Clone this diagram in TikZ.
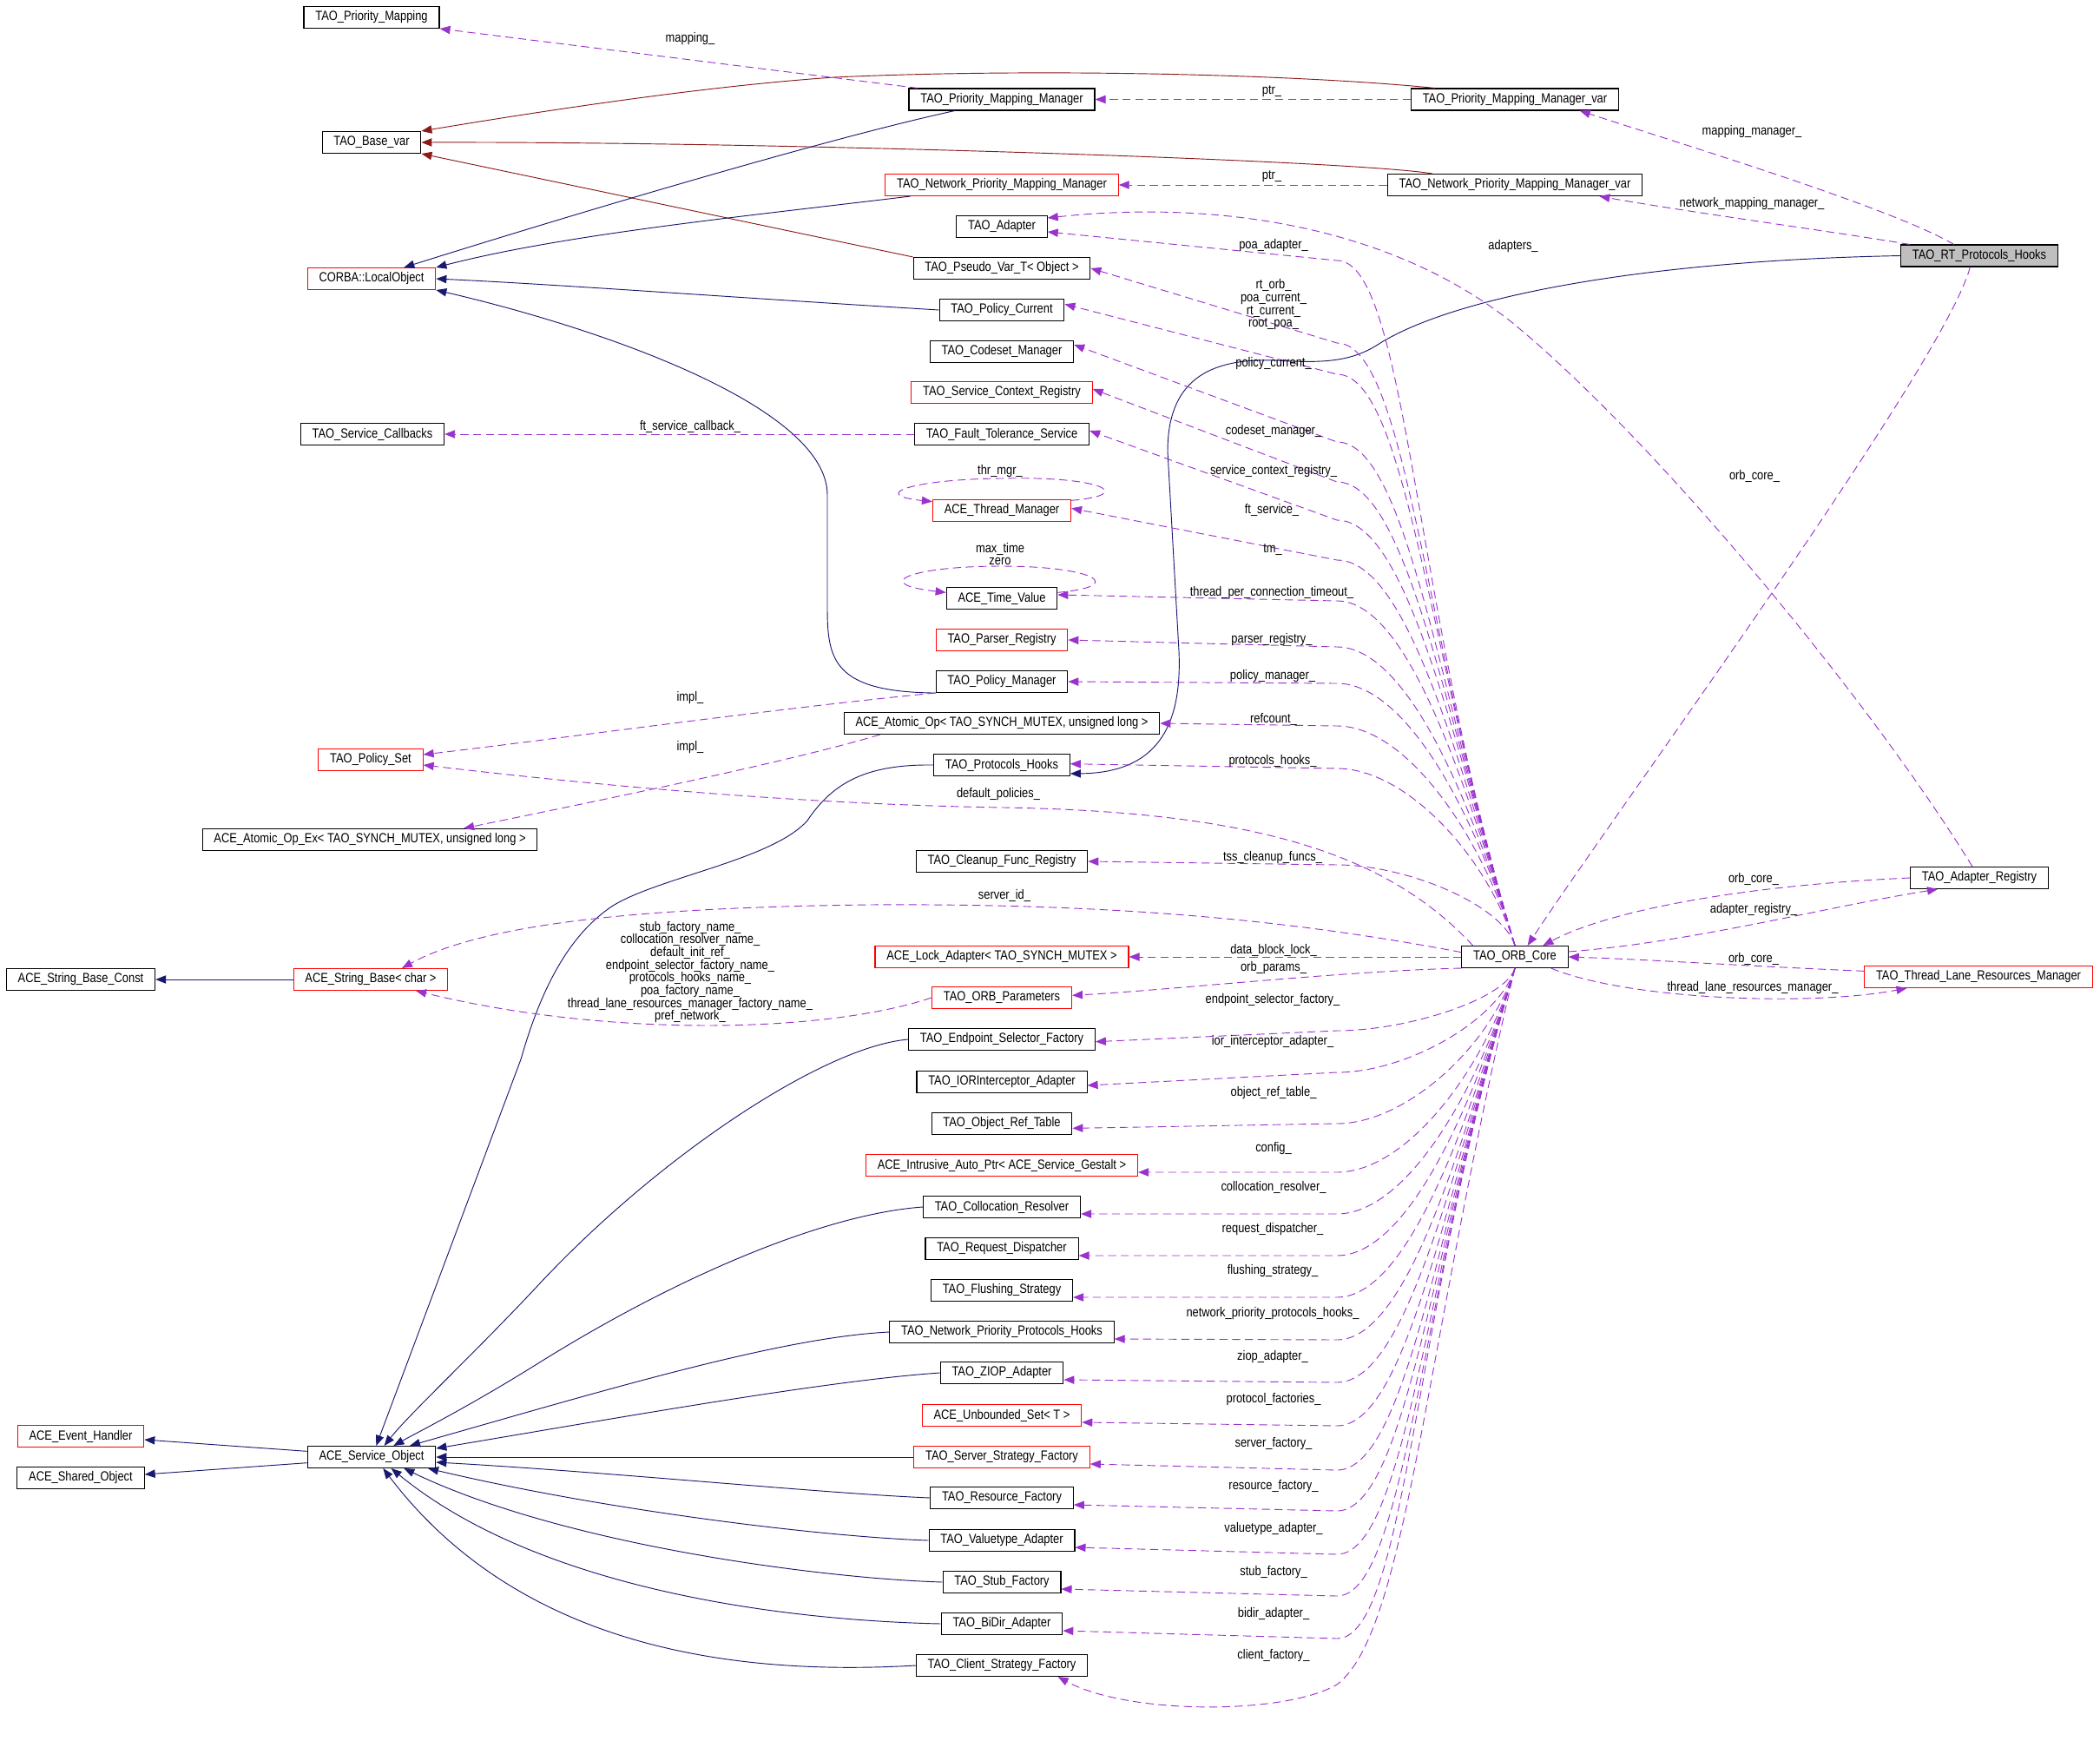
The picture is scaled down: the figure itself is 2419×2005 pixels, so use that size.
\documentclass[tikz,border=0pt]{standalone}
\usepackage{xcolor}
\usepackage{fontspec}
\setmainfont{Liberation Sans}[FakeStretch=0.84]
\usepackage{tikz}
\usetikzlibrary{arrows.meta, positioning}
\definecolor{mynavy}{RGB}{25,25,112}
\definecolor{mybrown}{RGB}{139,26,26}
\definecolor{myorchid}{RGB}{154,50,205}
\definecolor{myred}{RGB}{255,0,0}
\definecolor{mygray}{RGB}{191,191,191}
\newcommand{\dgfont}{\fontsize{11.5}{11}\selectfont}
\tikzset{
  cls/.style={rectangle, draw=black, fill=white, line width=0.8pt,
    inner xsep=10pt, inner ysep=2pt, minimum height=18.75pt, font=\dgfont},
  redcls/.style={cls, draw=myred},
  hlcls/.style={cls, fill=mygray},
  inhline/.style={-{Triangle[length=9pt,width=7pt]}, line width=0.7pt, color=mynavy},
  tplline/.style={-{Triangle[length=9pt,width=7pt]}, line width=0.7pt, color=mybrown},
  useline/.style={-{Triangle[length=9pt,width=7pt]}, line width=0.7pt, color=myorchid,
    dash pattern=on 7pt off 4pt},
  lbl/.style={font=\dgfont, inner sep=0pt, align=center}
}
\begin{document}
\begin{tikzpicture}[x=0.75pt, y=-0.75pt]
  \useasboundingbox (0,0) rectangle (2419,2005);

  % Left column
  \node[cls] (pm) at (428,20) {TAO\_Priority\_Mapping};
  \node[cls] (basevar) at (428,164) {TAO\_Base\_var};
  \node[redcls] (localobj) at (428,321) {CORBA::LocalObject};
  \node[cls] (svccb) at (429,500) {TAO\_Service\_Callbacks};
  \node[redcls] (policyset) at (427,875) {TAO\_Policy\_Set};
  \node[cls] (atomicex) at (426,967) {ACE\_Atomic\_Op\_Ex< TAO\_SYNCH\_MUTEX, unsigned long >};
  \node[redcls] (strbase) at (427,1128) {ACE\_String\_Base< char >};
  \node[cls] (svcobj) at (428,1678) {ACE\_Service\_Object};
  \node[cls] (strconst) at (93,1128) {ACE\_String\_Base\_Const};
  \node[redcls] (evh) at (93,1654) {ACE\_Event\_Handler};
  \node[cls] (shobj) at (93,1702) {ACE\_Shared\_Object};

  % Middle column
  \node[cls] (pmm) at (1154,114.5) {TAO\_Priority\_Mapping\_Manager};
  \node[redcls] (npmm) at (1154,213) {TAO\_Network\_Priority\_Mapping\_Manager};
  \node[cls] (adapter) at (1154,261) {TAO\_Adapter};
  \node[cls] (pseudo) at (1154,309) {TAO\_Pseudo\_Var\_T< Object >};
  \node[cls] (policycur) at (1154,357) {TAO\_Policy\_Current};
  \node[cls] (codeset) at (1154,405) {TAO\_Codeset\_Manager};
  \node[redcls] (svcctx) at (1154,452) {TAO\_Service\_Context\_Registry};
  \node[cls] (ftsvc) at (1154,500) {TAO\_Fault\_Tolerance\_Service};
  \node[redcls] (thrmgr) at (1154,588) {ACE\_Thread\_Manager};
  \node[cls] (timeval) at (1154,689) {ACE\_Time\_Value};
  \node[redcls] (parser) at (1154,737) {TAO\_Parser\_Registry};
  \node[cls] (policymgr) at (1154,785) {TAO\_Policy\_Manager};
  \node[cls] (atomicop) at (1154,833) {ACE\_Atomic\_Op< TAO\_SYNCH\_MUTEX, unsigned long >};
  \node[cls] (prothooks) at (1154,881) {TAO\_Protocols\_Hooks};
  \node[cls] (cleanup) at (1154,992) {TAO\_Cleanup\_Func\_Registry};
  \node[redcls] (lockad) at (1154,1102) {ACE\_Lock\_Adapter< TAO\_SYNCH\_MUTEX >};
  \node[redcls] (orbparams) at (1154,1149) {TAO\_ORB\_Parameters};
  \node[cls] (epsel) at (1154,1197) {TAO\_Endpoint\_Selector\_Factory};
  \node[cls] (iorint) at (1154,1246) {TAO\_IORInterceptor\_Adapter};
  \node[cls] (objref) at (1154,1294) {TAO\_Object\_Ref\_Table};
  \node[redcls] (intrusive) at (1154,1342) {ACE\_Intrusive\_Auto\_Ptr< ACE\_Service\_Gestalt >};
  \node[cls] (colloc) at (1154,1390) {TAO\_Collocation\_Resolver};
  \node[cls] (reqdisp) at (1154,1438) {TAO\_Request\_Dispatcher};
  \node[cls] (flush) at (1154,1486) {TAO\_Flushing\_Strategy};
  \node[cls] (npph) at (1154,1534) {TAO\_Network\_Priority\_Protocols\_Hooks};
  \node[cls] (ziop) at (1154,1581) {TAO\_ZIOP\_Adapter};
  \node[redcls] (unbset) at (1154,1630) {ACE\_Unbounded\_Set< T >};
  \node[redcls] (srvstrat) at (1154,1678) {TAO\_Server\_Strategy\_Factory};
  \node[cls] (resfac) at (1154,1725) {TAO\_Resource\_Factory};
  \node[cls] (valtype) at (1154,1774) {TAO\_Valuetype\_Adapter};
  \node[cls] (stubfac) at (1154,1822) {TAO\_Stub\_Factory};
  \node[cls] (bidir) at (1154,1870) {TAO\_BiDir\_Adapter};
  \node[cls] (clistrat) at (1154,1918) {TAO\_Client\_Strategy\_Factory};

  % Right side
  \node[cls] (pmmvar) at (1745,114.5) {TAO\_Priority\_Mapping\_Manager\_var};
  \node[cls] (npmmvar) at (1745,213) {TAO\_Network\_Priority\_Mapping\_Manager\_var};
  \node[hlcls] (rtph) at (2280,294.5) {TAO\_RT\_Protocols\_Hooks};
  \node[cls] (orb) at (1745,1102) {TAO\_ORB\_Core};
  \node[cls] (areg) at (2280,1011) {TAO\_Adapter\_Registry};
  \node[redcls] (tlrm) at (2279,1125) {TAO\_Thread\_Lane\_Resources\_Manager};

  % Template edges
  \draw[tplline] ([xshift=21pt]pmmvar.north west) .. controls (1500,86) and (1200,78) .. (961,89) .. controls (800,100) and (600,132) .. (basevar.north east);
  \draw[tplline] ([xshift=39pt]npmmvar.north west) .. controls (1560,185) and (900,163) .. (basevar.east);
  \draw[tplline] (pseudo.north west) -- (basevar.south east);

  % Inheritance edges
  \draw[inhline] ([xshift=40pt]pmm.south west) .. controls (950,160) and (650,250) .. ([xshift=28pt]localobj.north);
  \draw[inhline] ([xshift=22pt]npmm.south west) .. controls (850,250) and (650,270) .. (localobj.north east);
  \draw[inhline] (policycur.west) .. controls (850,343) and (650,328) .. (localobj.east);
  \draw[inhline] (policymgr.south west) .. controls (960,797) and (953,760) .. (953,700) -- (953,570) .. controls (953,470) and (700,380) .. (localobj.south east);
  \draw[inhline] (rtph.west) .. controls (1900,300) and (1680,340) .. (1590,395) .. controls (1560,415) and (1530,419) .. (1470,415) .. controls (1390,412) and (1345,440) .. (1345,520) -- (1358,750) .. controls (1362,840) and (1330,890) .. ([yshift=-7.5pt]prothooks.east);
  \draw[inhline] (prothooks.west) .. controls (1000,880) and (960,900) .. (930,945) .. controls (890,990) and (760,1010) .. (706,1043) .. controls (650,1080) and (620,1150) .. (600,1220) -- ([xshift=4pt]svcobj.north);
  \draw[inhline] (epsel.west) .. controls (950,1205) and (760,1330) .. (620,1480) .. controls (550,1555) and (470,1630) .. ([xshift=11pt]svcobj.north);
  \draw[inhline] (colloc.west) .. controls (950,1398) and (780,1470) .. (620,1570) .. controls (540,1620) and (480,1650) .. ([xshift=19pt]svcobj.north);
  \draw[inhline] (npph.west) .. controls (900,1540) and (700,1600) .. ([xshift=33pt]svcobj.north);
  \draw[inhline] (ziop.west) .. controls (950,1590) and (700,1635) .. ([yshift=7.5pt]svcobj.east);
  \draw[inhline] (srvstrat.west) -- (svcobj.east);
  \draw[inhline] (resfac.west) .. controls (950,1720) and (700,1695) .. ([yshift=-4.5pt]svcobj.east);
  \draw[inhline] (valtype.west) .. controls (950,1770) and (700,1740) .. ([xshift=-7pt]svcobj.south east);
  \draw[inhline] (stubfac.west) .. controls (950,1818) and (650,1780) .. ([xshift=28pt]svcobj.south);
  \draw[inhline] (bidir.west) .. controls (900,1866) and (620,1830) .. ([xshift=17pt]svcobj.south);
  \draw[inhline] (clistrat.west) .. controls (850,1930) and (600,1900) .. ([xshift=10pt]svcobj.south);
  \draw[inhline] ([yshift=5pt]svcobj.west) -- ([yshift=-3pt]evh.east);
  \draw[inhline] ([yshift=-5pt]svcobj.west) -- ([yshift=3pt]shobj.east);
  \draw[inhline] (strbase.west) -- (strconst.east);

  % Usage edges, top and right
  \draw[useline] ([xshift=8pt]pmm.north west) -- (pm.south east);
  \node[lbl] (l-mapping) at (795,45) {mapping\_};
  \draw[useline] (pmmvar.west) -- (pmm.east);
  \node[lbl] (l-ptr1) at (1465,105) {ptr\_};
  \draw[useline] (npmmvar.west) -- (npmm.east);
  \node[lbl] (l-ptr2) at (1465,203) {ptr\_};
  \draw[useline] ([xshift=-22pt]rtph.north) .. controls (2180,240) and (1950,170) .. ([xshift=-34pt]pmmvar.south east);
  \node[lbl] (l-mapmgr) at (2018,152) {mapping\_manager\_};
  \draw[useline] ([xshift=8pt]rtph.north west) .. controls (2100,265) and (1950,245) .. ([xshift=-37.5pt]npmmvar.south east);
  \node[lbl] (l-netmapmgr) at (2018,235) {network\_mapping\_manager\_};
  \draw[useline] ([xshift=-8pt]rtph.south) .. controls (2240,420) and (1850,950) .. ([xshift=11pt]orb.north);
  \node[lbl] (l-orbcore1) at (2021,548) {orb\_core\_};
  \draw[useline] ([xshift=-6pt]areg.north) .. controls (2150,800) and (1900,500) .. (1740,370) .. controls (1600,260) and (1400,230) .. ([yshift=7.5pt]adapter.east);
  \node[lbl] (l-adapters) at (1743,284) {adapters\_};
  \draw[useline] (areg.west) .. controls (2000,1020) and (1850,1050) .. ([xshift=-22pt]orb.north east);
  \node[lbl] (l-orbcore2) at (2020,1012) {orb\_core\_};
  \draw[useline] ([yshift=4.5pt]orb.east) .. controls (1950,1085) and (2100,1045) .. ([xshift=-36pt]areg.south);
  \node[lbl] (l-areg) at (2020,1048) {adapter\_registry\_};
  \draw[useline] ([yshift=5pt]tlrm.west) .. controls (2000,1112) and (1900,1105) .. (orb.east);
  \node[lbl] (l-orbcore3) at (2020,1104) {orb\_core\_};
  \draw[useline] ([xshift=-15pt]orb.south east) .. controls (1870,1150) and (2080,1160) .. ([xshift=37pt]tlrm.south west);
  \node[lbl] (l-tlrm) at (2019,1138) {thread\_lane\_resources\_manager\_};

  % Usage edges, left side
  \draw[useline] (ftsvc.west) -- (svccb.east);
  \node[lbl] (l-ftcb) at (795,491) {ft\_service\_callback\_};
  \draw[useline] ([yshift=-1pt]thrmgr.north east) .. controls (1310,570) and (1270,548) .. (1153,551) .. controls (1050,552) and (1000,570) .. ([yshift=-2pt]thrmgr.north west);
  \node[lbl] (l-thrmgr) at (1152,543) {thr\_mgr\_};
  \draw[useline] ([yshift=5pt]timeval.east) .. controls (1300,675) and (1260,652) .. (1153,652) .. controls (1050,652) and (1000,672) .. ([yshift=5pt]timeval.west);
  \node[lbl] (l-maxtime) at (1152,638) {max\_time\\zero};
  \draw[useline] (policymgr.south west) .. controls (900,815) and (650,850) .. ([yshift=4.5pt]policyset.east);
  \node[lbl] (l-impl1) at (795,804) {impl\_};
  \draw[useline] ([xshift=31.5pt]atomicop.south west) .. controls (900,880) and (650,930) .. ([xshift=-64pt]atomicex.north east);
  \node[lbl] (l-impl2) at (795,861) {impl\_};
  \draw[useline] ([xshift=10pt]orb.north west) .. controls (1600,985) and (1450,935) .. (1157,930) .. controls (900,926) and (650,900) .. ([yshift=-4.5pt]policyset.east);
  \node[lbl] (l-defpol) at (1150,915) {default\_policies\_};
  \draw[useline] ([yshift=4pt]orb.west) .. controls (1500,1062) and (1300,1040) .. (1000,1042) .. controls (750,1045) and (560,1062) .. ([xshift=27pt]strbase.north);
  \node[lbl] (l-srvid) at (1157,1031) {server\_id\_};
  \draw[useline] (orbparams.west) .. controls (950,1190) and (700,1195) .. ([xshift=-28pt]strbase.south east);
  \node[lbl] (l-names) at (795,1119.5) {stub\_factory\_name\_\\collocation\_resolver\_name\_\\default\_init\_ref\_\\endpoint\_selector\_factory\_name\_\\protocols\_hooks\_name\_\\poa\_factory\_name\_\\thread\_lane\_resources\_manager\_factory\_name\_\\pref\_network\_};

  % Usage edges from TAO_ORB_Core, upwards
  \draw[useline] (orb.north) .. controls (1627,695) and (1620,300) .. (1540,300) -- ([yshift=-4.5pt]adapter.east);
  \node[lbl] (l-poa) at (1467,283) {poa\_adapter\_};
  \draw[useline] (orb.north) .. controls (1641,742) and (1620,395) .. (1540,395) -- (pseudo.east);
  \node[lbl] (l-rtorb) at (1467,351) {rt\_orb\_\\poa\_current\_\\rt\_current\_\\root\_poa\_};
  \draw[useline] (orb.north) .. controls (1646,760) and (1620,431) .. (1540,431) -- ([yshift=5pt]policycur.east);
  \node[lbl] (l-polcur) at (1467,419) {policy\_current\_};
  \draw[useline] (orb.north) .. controls (1658,799) and (1620,509) .. (1540,509) -- ([yshift=6pt]codeset.east);
  \node[lbl] (l-codeset) at (1467,497) {codeset\_manager\_};
  \draw[useline] (orb.north) .. controls (1665,822) and (1620,555) .. (1540,555) -- ([yshift=3pt]svcctx.east);
  \node[lbl] (l-svcctx) at (1467,543) {service\_context\_registry\_};
  \draw[useline] (orb.north) .. controls (1672,844) and (1620,599) .. (1540,599) -- ([yshift=3pt]ftsvc.east);
  \node[lbl] (l-ftsvc) at (1465,587) {ft\_service\_};
  \draw[useline] (orb.north) .. controls (1678,867) and (1620,645) .. (1540,645) -- ([yshift=2pt]thrmgr.east);
  \node[lbl] (l-tm) at (1466,633) {tm\_};
  \draw[useline] (orb.north) .. controls (1685,890) and (1620,692) .. (1540,692) -- ([yshift=3pt]timeval.east);
  \node[lbl] (l-tpct) at (1465,683) {thread\_per\_connection\_timeout\_};
  \draw[useline] (orb.north) .. controls (1693,917) and (1620,745) .. (1540,745) -- (parser.east);
  \node[lbl] (l-parser) at (1465,737) {parser\_registry\_};
  \draw[useline] (orb.north) .. controls (1700,938) and (1620,787) .. (1540,787) -- (policymgr.east);
  \node[lbl] (l-polmgr) at (1466,779) {policy\_manager\_};
  \draw[useline] (orb.north) .. controls (1707,962) and (1620,836) .. (1540,836) -- (atomicop.east);
  \node[lbl] (l-refcount) at (1467,828) {refcount\_};
  \draw[useline] (orb.north) .. controls (1714,987) and (1620,885) .. (1540,885) -- ([yshift=1pt]prothooks.east);
  \node[lbl] (l-prothooks) at (1466,877) {protocols\_hooks\_};
  \draw[useline] (orb.north) .. controls (1731,1042) and (1620,996) .. (1540,996) -- (cleanup.east);
  \node[lbl] (l-tss) at (1466,988) {tss\_cleanup\_funcs\_};

  % Usage edges from TAO_ORB_Core, sideways and downwards
  \draw[useline] (orb.west) -- (lockad.east);
  \node[lbl] (l-dbl) at (1467,1094) {data\_block\_lock\_};
  \draw[useline] (orb.south west) .. controls (1550,1118) and (1350,1140) .. ([yshift=2pt]orbparams.east);
  \node[lbl] (l-orbparams) at (1467,1115) {orb\_params\_};
  \draw[useline] (orb.south) .. controls (1734,1151) and (1620,1187) .. (1540,1187) -- ([yshift=-2pt]epsel.east);
  \node[lbl] (l-epsel) at (1466,1152) {endpoint\_selector\_factory\_};
  \draw[useline] (orb.south) .. controls (1727,1175) and (1620,1235) .. (1540,1235) -- ([yshift=-3pt]iorint.east);
  \node[lbl] (l-iorint) at (1466,1200) {ior\_interceptor\_adapter\_};
  \draw[useline] (orb.south) .. controls (1718,1204) and (1620,1294) .. (1540,1294) -- ([yshift=-4pt]objref.east);
  \node[lbl] (l-objref) at (1467,1259) {object\_ref\_table\_};
  \draw[useline] (orb.south) .. controls (1710,1232) and (1620,1350) .. (1540,1350) -- ([yshift=-6pt]intrusive.east);
  \node[lbl] (l-config) at (1467,1323) {config\_};
  \draw[useline] (orb.south) .. controls (1703,1256) and (1620,1398) .. (1540,1398) -- ([yshift=-6pt]colloc.east);
  \node[lbl] (l-colloc) at (1467,1367) {collocation\_resolver\_};
  \draw[useline] (orb.south) .. controls (1695,1280) and (1620,1446) .. (1540,1446) -- ([yshift=-6pt]reqdisp.east);
  \node[lbl] (l-reqdisp) at (1466,1416) {request\_dispatcher\_};
  \draw[useline] (orb.south) .. controls (1688,1304) and (1620,1494) .. (1540,1494) -- ([yshift=-6pt]flush.east);
  \node[lbl] (l-flush) at (1466,1464) {flushing\_strategy\_};
  \draw[useline] (orb.south) .. controls (1681,1329) and (1620,1543) .. (1540,1543) -- ([yshift=-6pt]npph.east);
  \node[lbl] (l-npph) at (1466,1513) {network\_priority\_protocols\_hooks\_};
  \draw[useline] (orb.south) .. controls (1673,1353) and (1620,1592) .. (1540,1592) -- ([yshift=-6pt]ziop.east);
  \node[lbl] (l-ziop) at (1466,1563) {ziop\_adapter\_};
  \draw[useline] (orb.south) .. controls (1666,1378) and (1620,1642) .. (1540,1642) -- ([yshift=-6pt]unbset.east);
  \node[lbl] (l-protfac) at (1467,1612) {protocol\_factories\_};
  \draw[useline] (orb.south) .. controls (1658,1404) and (1620,1693) .. (1540,1693) -- ([yshift=-6pt]srvstrat.east);
  \node[lbl] (l-srvfac) at (1467,1663) {server\_factory\_};
  \draw[useline] (orb.south) .. controls (1651,1427) and (1620,1740) .. (1540,1740) -- ([yshift=-6pt]resfac.east);
  \node[lbl] (l-resfac) at (1467,1712) {resource\_factory\_};
  \draw[useline] (orb.south) .. controls (1644,1452) and (1620,1790) .. (1540,1790) -- ([yshift=-6pt]valtype.east);
  \node[lbl] (l-valtype) at (1467,1761) {valuetype\_adapter\_};
  \draw[useline] (orb.south) .. controls (1637,1476) and (1620,1838) .. (1540,1838) -- ([yshift=-6pt]stubfac.east);
  \node[lbl] (l-stubfac) at (1467,1811) {stub\_factory\_};
  \draw[useline] (orb.south) .. controls (1629,1501) and (1620,1887) .. (1540,1887) -- ([yshift=-6pt]bidir.east);
  \node[lbl] (l-bidir) at (1467,1859) {bidir\_adapter\_};
  \draw[useline] (orb.south) .. controls (1640,1560) and (1620,1880) .. (1540,1940) .. controls (1480,1975) and (1300,1975) .. ([xshift=-26pt]clistrat.south east);
  \node[lbl] (l-clifac) at (1467,1907) {client\_factory\_};
\end{tikzpicture}
\end{document}
